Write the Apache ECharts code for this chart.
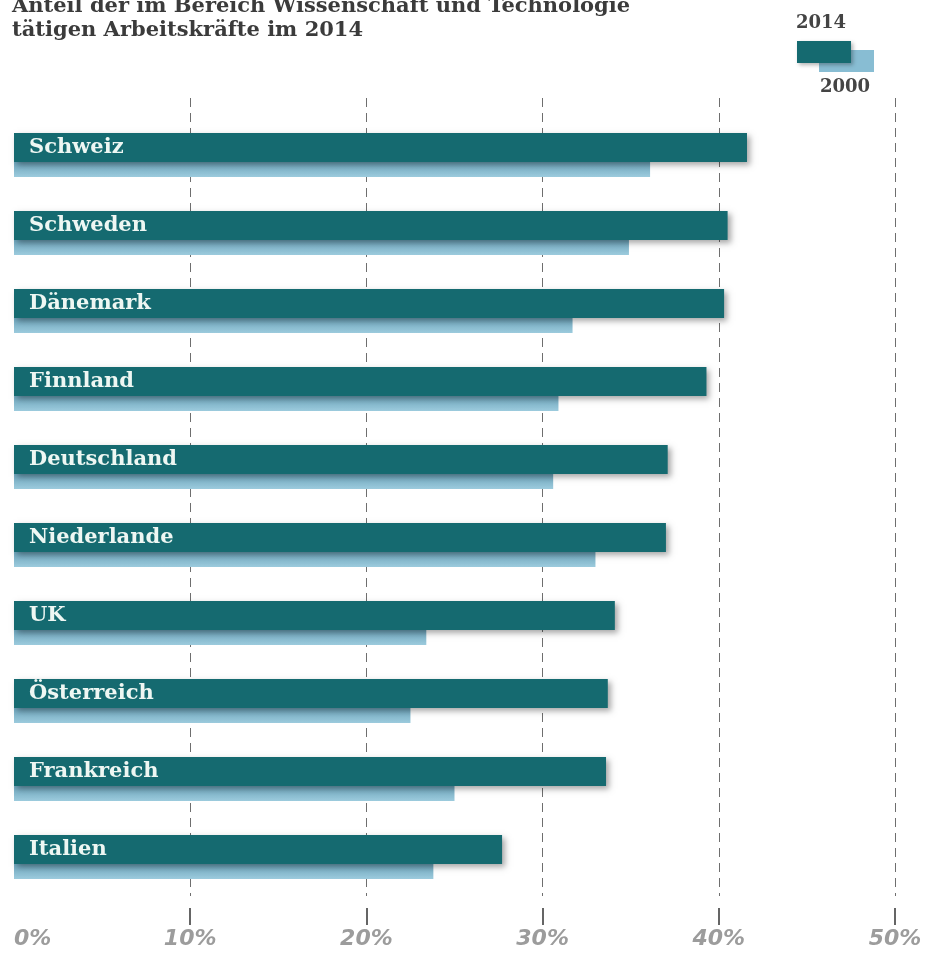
<!DOCTYPE html>
<html>
<head>
<meta charset="utf-8">
<script src="https://cdn.jsdelivr.net/npm/echarts@6/dist/echarts.min.js"></script>
<style>html,body{margin:0;padding:0;background:#fff;}#c{width:925px;height:956px;}</style>
</head>
<body>
<div id="c"></div>
<script>
const titleLines = ['Anteil der im Bereich Wissenschaft und Technologie', 'tätigen Arbeitskräfte im 2014'];
const categories = ['Schweiz','Schweden','Dänemark','Finnland','Deutschland','Niederlande','UK','Österreich','Frankreich','Italien'];
const values2014 = [41.6, 40.5, 40.3, 39.3, 37.1, 37.0, 34.1, 33.7, 33.6, 27.7];
const values2000 = [36.1, 34.9, 31.7, 30.9, 30.6, 33.0, 23.4, 22.5, 25.0, 23.8];
const seriesNames = ['2014', '2000'];
const tickValues = [10, 20, 30, 40, 50];
const axisMin = 0, axisMax = 50, axisStep = 10;

const DARK = '#156a70';
const serif = '"DejaVu Serif", serif';
const chart = echarts.init(document.getElementById('c'));
const hiddenAxis = {show: true, axisLine:{show:false}, axisTick:{show:false}, axisLabel:{show:false}};

chart.setOption({
  animation: false,
  title: {
    text: titleLines.join('\n'), left: 12, top: -5, padding: 0,
    textStyle: {fontFamily: serif, fontWeight: 'bold', fontSize: 21, lineHeight: 24, color: '#3b3b3b'}
  },
  grid: [
    {left: 14, right: 30, top: 116, height: 780, outerBoundsMode: 'none', containLabel: false},
    {left: 14, right: 30, top: 98, bottom: 60, outerBoundsMode: 'none', containLabel: false}
  ],
  xAxis: [
    {gridIndex: 0, type: 'value', min: axisMin, max: axisMax, interval: axisStep, offset: 12,
     axisLine: {show: true, lineStyle: {color: 'rgba(0,0,0,0)', width: 0}},
     axisTick: {show: true, inside: false, length: 17, customValues: tickValues, lineStyle: {color: '#333', width: 1.5}},
     splitLine: {show: false},
     axisLabel: {margin: 20, formatter: '{value}%', color: '#9c9c9c', fontSize: 22, alignMinLabel: 'left',
       fontFamily: '"DejaVu Sans", sans-serif', fontWeight: 'bold', fontStyle: 'italic'}},
    Object.assign({gridIndex: 1, type: 'value', min: axisMin, max: axisMax, interval: axisStep,
     splitLine: {show: true, showMinLine: false, lineStyle: {color: '#6e6e6e', width: 1, type: [9, 6]}}}, hiddenAxis)
  ],
  yAxis: [
    {gridIndex: 0, type: 'category', data: categories, inverse: true, show: false},
    {gridIndex: 1, type: 'value', show: false}
  ],
  series: [
    {
      name: seriesNames[0], type: 'bar', xAxisIndex: 0, yAxisIndex: 0, data: values2014,
      barWidth: 29, barGap: '-48.3%', z: 4,
      itemStyle: {color: DARK, shadowColor: 'rgba(0,0,0,0.35)', shadowBlur: 6, shadowOffsetX: 3, shadowOffsetY: 3},
      label: {show: true, position: 'insideLeft', distance: 15, formatter: '{b}',
        color: '#eef7f3', fontFamily: serif, fontWeight: 'bold', fontSize: 21}
    },
    {
      name: seriesNames[1], type: 'bar', xAxisIndex: 0, yAxisIndex: 0, data: values2000,
      barWidth: 29, z: 3,
      itemStyle: {color: new echarts.graphic.LinearGradient(0, 0, 0, 1, [
        {offset: 0, color: '#5f97ae'}, {offset: 0.5, color: '#6fa7be'}, {offset: 1, color: '#9ccbdd'}])}
    }
  ],
  graphic: [
    {type: 'rect', shape: {x: 819, y: 50, width: 55, height: 22}, style: {fill: '#88bdd3'}, z: 1},
    {type: 'rect', shape: {x: 797, y: 41, width: 54, height: 22}, style: {fill: DARK, shadowColor: 'rgba(0,0,0,0.3)', shadowBlur: 4, shadowOffsetX: 2, shadowOffsetY: 2}, z: 2},
    {type: 'text', left: 796, top: 14, style: {text: seriesNames[0], fontFamily: serif, fontWeight: 'bold', fontSize: 18, fill: '#444'}},
    {type: 'text', left: 820, top: 78, style: {text: seriesNames[1], fontFamily: serif, fontWeight: 'bold', fontSize: 18, fill: '#444'}}
  ]
});
</script>
</body>
</html>
